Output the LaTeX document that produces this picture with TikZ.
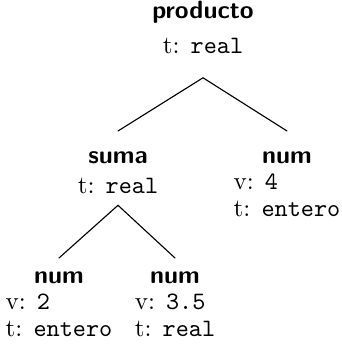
\documentclass[tikz,border=0pt]{standalone}
\usepackage{tikz}
\usetikzlibrary{calc}
\definecolor{tinta}{HTML}{000000}
\renewcommand{\arraystretch}{0.88}
% nombre del nodo y hoja con valor y tipo
\newcommand{\etq}[1]{\textsf{\bfseries #1}}
\newcommand{\interno}[3][1.4pt]{\begin{tabular}{@{}c@{}}\etq{#2}\\[#1] t: \texttt{#3}\end{tabular}}
\newcommand{\hoja}[2]{\begin{tabular}{@{}l@{}}\multicolumn{1}{@{}c@{}}{\etq{num}}\\ v: \texttt{#1}\\ t: \texttt{#2}\end{tabular}}
\tikzset{
  nodo/.style={anchor=north, inner sep=0pt, text=tinta},
  rama/.style={draw=tinta, line width=0.45pt, line cap=round},
}

\begin{document}
\begin{tikzpicture}[x=0.4pt, y=0.4pt]
  \useasboundingbox (0,0) rectangle (341,344);
  % raiz
  \node[nodo] (prod) at (203,344.5) {\interno[3.4pt]{producto}{real}};
  % segundo nivel
  \node[nodo] (suma) at (118,199.5) {\interno{suma}{real}};
  \node[nodo] (num4) at (287,199.5) {\hoja{4}{entero}};
  % hojas de la suma
  \node[nodo] (num2) at (59,79.5) {\hoja{2}{entero}};
  \node[nodo] (num35) at (175,79.5) {\hoja{3.5}{real}};
  \draw[rama] ([yshift=-6.4pt]prod.south) -- ([yshift=5.4pt]suma.north);
  \draw[rama] ([yshift=-6.4pt]prod.south) -- ([yshift=5.4pt]num4.north);
  \draw[rama] ([yshift=-1.4pt]suma.south) -- ([yshift=2.6pt]num2.north);
  \draw[rama] ([yshift=-1.4pt]suma.south) -- ([yshift=2.6pt]num35.north);
\end{tikzpicture}
\end{document}
